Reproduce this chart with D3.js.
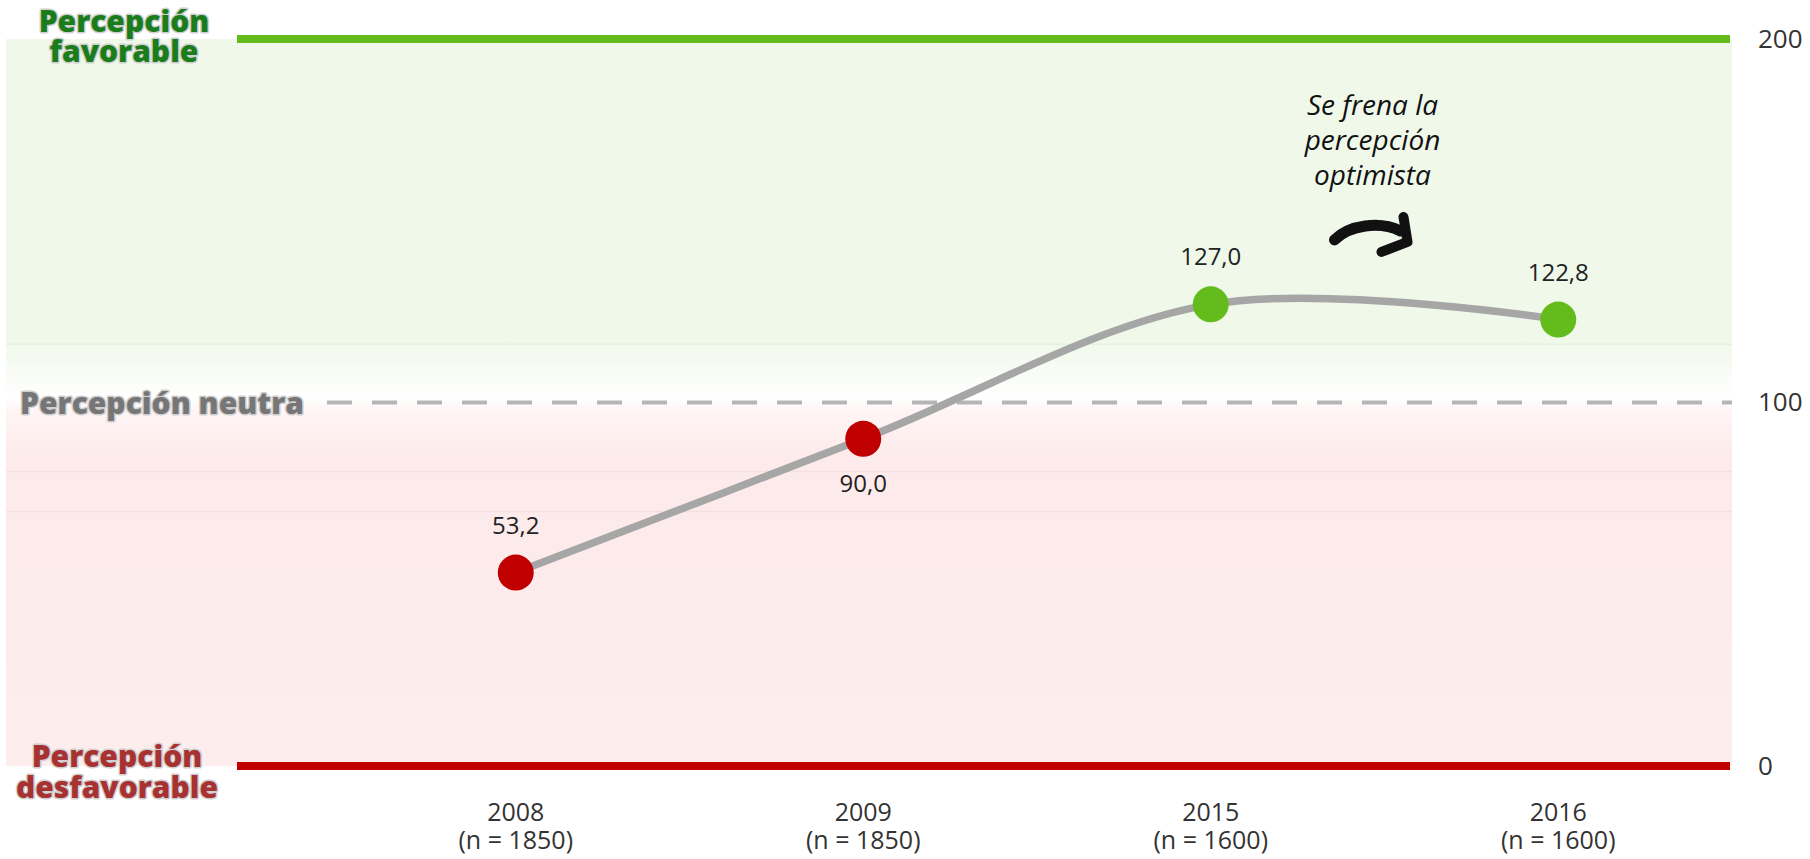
<!DOCTYPE html>
<html><head><meta charset="utf-8">
<script src="https://cdn.jsdelivr.net/npm/d3@7"></script>
<style>
html,body{margin:0;padding:0;background:#fff;}
svg{display:block;}
</style></head>
<body>
<svg id="c" width="1810" height="859"></svg>
<script>
const years = ["2008","2009","2015","2016"];
const sampleSizes = ["(n = 1850)","(n = 1850)","(n = 1600)","(n = 1600)"];
const values = [53.2, 90.0, 127.0, 122.8];
const yTicks = [0, 100, 200];
const neutralValue = 100;
const annotationLines = ["Se frena la","percepción","optimista"];

const svg = d3.select("#c");
const x = d3.scalePoint().domain(years).range([342, 1732]).padding(0.5);
const y = d3.scaleLinear().domain([0, 200]).range([766, 39]);
const bgLeft = 6, bgRight = 1732, lineLeft = 237;

// background gradient
const defs = svg.append("defs");
const g = defs.append("linearGradient").attr("id","bg").attr("gradientUnits","userSpaceOnUse")
  .attr("x1",0).attr("x2",0).attr("y1",y(200)).attr("y2",y(0));
const stops = [[200,"#eff8e9"],[118,"#eff8e9"],[101,"#ffffff"],[98,"#fff5f5"],[85,"#fdeaea"],[0,"#fdeded"]];
stops.forEach(([v,c])=>{
  g.append("stop").attr("offset",((y(v)-y(200))/(y(0)-y(200))).toFixed(4)).attr("stop-color",c);
});
svg.append("rect").attr("x",bgLeft).attr("y",y(200)).attr("width",bgRight-bgLeft).attr("height",y(0)-y(200)).attr("fill","url(#bg)");

// faint bands
[116, 81, 70].forEach(v=>{
  svg.append("line").attr("x1",bgLeft).attr("x2",bgRight).attr("y1",y(v)).attr("y2",y(v))
    .attr("stroke", v>100?"#e6f0e0":"#f5e0e0").attr("stroke-width",1.5);
});

// top and bottom lines
svg.append("line").attr("x1",lineLeft).attr("x2",bgRight-2).attr("y1",y(200)).attr("y2",y(200))
  .attr("stroke","#64bb1c").attr("stroke-width",8);
svg.append("line").attr("x1",lineLeft).attr("x2",bgRight-2).attr("y1",y(0)).attr("y2",y(0))
  .attr("stroke","#c00000").attr("stroke-width",8);
// neutral dashed
svg.append("line").attr("x1",327).attr("x2",bgRight).attr("y1",y(neutralValue)).attr("y2",y(neutralValue))
  .attr("stroke","#b5b5b5").attr("stroke-width",4).attr("stroke-dasharray","25,20");

// right axis
const yAxis = d3.axisRight(y).tickValues(yTicks).tickSize(0).tickPadding(0);
const ya = svg.append("g").attr("transform","translate(1758,0)").call(yAxis);
ya.select(".domain").remove();
ya.selectAll("text").attr("font-family","'Open Sans', sans-serif").attr("font-size",26).attr("fill","#333").attr("dy","0.32em");

// x axis labels (two separate lines)
const xa = svg.append("g").attr("font-family","'Open Sans', sans-serif").attr("font-size",25).attr("fill","#333").attr("text-anchor","middle");
years.forEach((yr,i)=>{
  xa.append("text").attr("x",x(yr)).attr("y",821).text(yr);
  xa.append("text").attr("x",x(yr)).attr("y",849).text(sampleSizes[i]);
});

// left labels
function bigLabel(lines, cx, baselines, color){
  lines.forEach((l,i)=>{
    svg.append("text").attr("text-anchor","middle")
      .attr("font-family","'Open Sans', sans-serif").attr("font-weight",800).attr("font-size",30)
      .attr("fill",color).attr("stroke","#d0d0d0").attr("stroke-width",3).attr("paint-order","stroke")
      .attr("stroke-linejoin","round")
      .attr("x",cx).attr("y",baselines[i]).text(l);
  });
}
bigLabel(["Percepción","favorable"],124,[32,62],"#1a7d1a");
bigLabel(["Percepción neutra"],162,[y(neutralValue)+11],"#767676");
bigLabel(["Percepción","desfavorable"],117,[767,798],"#a83232");

// line
const pts = years.map((yr,i)=>[x(yr), y(values[i])]);
svg.append("path").attr("d", d3.line().curve(d3.curveCardinal.tension(0))(pts))
  .attr("fill","none").attr("stroke","#a6a6a6").attr("stroke-width",7.5);

// points
svg.selectAll("circle.pt").data(values).join("circle").attr("class","pt")
  .attr("cx",(d,i)=>x(years[i])).attr("cy",d=>y(d)).attr("r",18)
  .attr("fill",d=>d<neutralValue?"#c00000":"#64bb1c");

// data labels
const fmt = d => d.toFixed(1).replace(".",",");
svg.selectAll("text.dl").data(values).join("text").attr("class","dl")
  .attr("x",(d,i)=>x(years[i])).attr("text-anchor","middle")
  .attr("y",(d,i)=>{
    const below = i>0 && i<values.length-1 && values[i-1]<d && values[i+1]>d;
    return below ? y(d)+53 : y(d)-39;
  })
  .attr("font-family","'Open Sans', sans-serif").attr("font-size",24).attr("fill","#222")
  .text(fmt);

// annotation
const ax = (x(years[2])+x(years[3]))/2;
const at = svg.append("g").attr("text-anchor","middle")
  .attr("font-family","'Open Sans', sans-serif").attr("font-style","italic").attr("font-size",28).attr("fill","#111");
annotationLines.forEach((l,i)=>at.append("text").attr("x",ax-12).attr("y",115+i*35).text(l));

// hand drawn arrow
const ay = y(145);
const ar = svg.append("g").attr("fill","none").attr("stroke","#111").attr("stroke-linecap","round").attr("stroke-linejoin","round");
const body = d3.path();
body.moveTo(ax-50, ay+1);
body.bezierCurveTo(ax-35, ay-14, ax-5, ay-18, ax+16, ay-8);
ar.append("path").attr("d",body.toString()).attr("stroke-width",11);
const head = d3.path();
head.moveTo(ax+19, ay-22); head.lineTo(ax+23, ay+3); head.lineTo(ax-3, ay+13);
ar.append("path").attr("d",head.toString()).attr("stroke-width",10);
</script>
</body></html>
